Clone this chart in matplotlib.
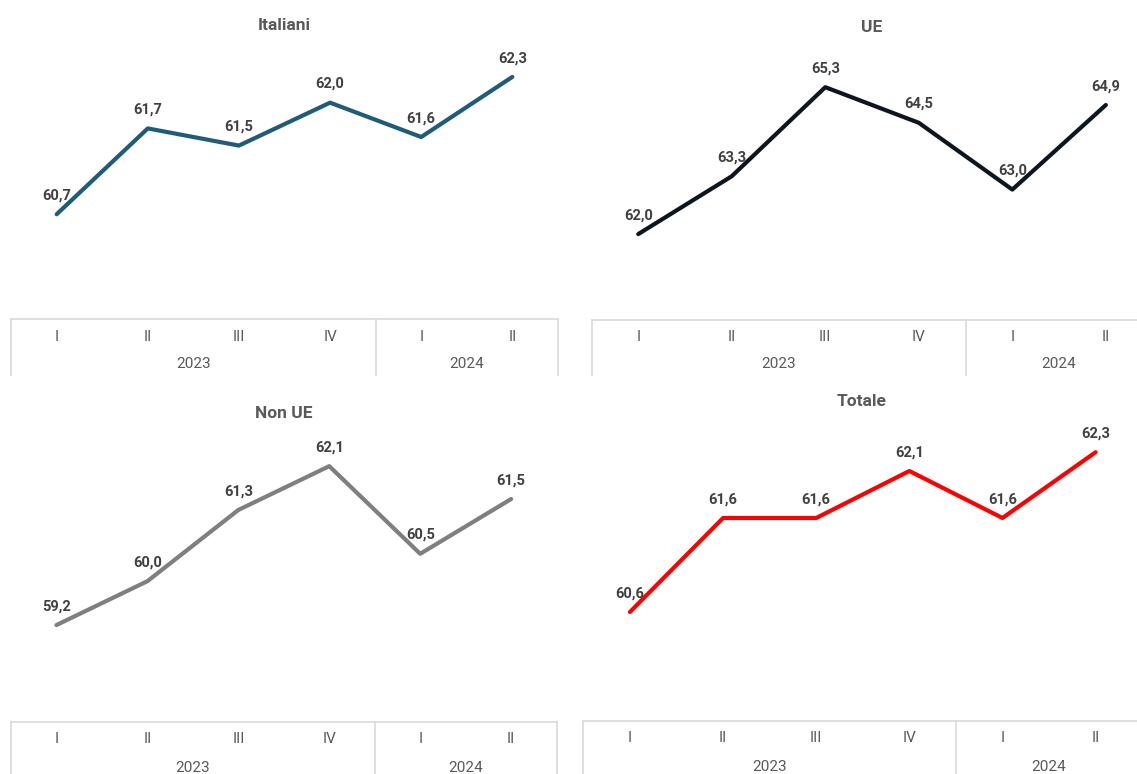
import matplotlib
matplotlib.use("Agg")
import matplotlib.pyplot as plt

# Quarterly values by citizenship group
quarters = ["I", "II", "III", "IV", "I", "II"]
years = ["2023", "2024"]
year_span = [4, 2]

italiani = [60.7, 61.7, 61.5, 62.0, 61.6, 62.3]
ue = [62.0, 63.3, 65.3, 64.5, 63.0, 64.9]
non_ue = [59.2, 60.0, 61.3, 62.1, 60.5, 61.5]
totale = [60.6, 61.6, 61.6, 62.1, 61.6, 62.3]

titles = ["Italiani", "UE", "Non UE", "Totale"]

W, H = 1137, 774
plt.rcParams["font.family"] = ["Roboto", "DejaVu Sans"]

fig = plt.figure(figsize=(W / 100, H / 100), dpi=100)
fig.patch.set_facecolor("white")

TEXT = "#404040"
AXIS_TEXT = "#595959"
GRID = "#d9d9d9"


def px_axes(x0, x1, y0, y1):
    """Axes placed by pixel box (y measured from the top)."""
    return fig.add_axes([x0 / W, 1 - y1 / H, (x1 - x0) / W, (y1 - y0) / H])


def panel(values, title, color, box, ylim, table_bottom, title_xy, row_y):
    x0, x1, y0, y1 = box
    ax = px_axes(x0, x1, y0, y1)
    xs = list(range(len(values)))
    ax.plot(xs, values, color=color, lw=3.0, solid_capstyle="round",
            solid_joinstyle="round", clip_on=False)
    for x, v in zip(xs, values):
        ax.annotate(f"{v:.1f}".replace(".", ","), (x, v), xytext=(0, 13.5),
                    textcoords="offset points", ha="center", va="center",
                    fontsize=10.5, fontweight="bold", color=TEXT,
                    annotation_clip=False)
    ax.set_xlim(-0.5, len(values) - 0.5)
    ax.set_ylim(*ylim)
    ax.axis("off")

    # Two-level category axis drawn as a table below the plot
    tb = px_axes(x0, x1, y1, table_bottom)
    tb.set_xlim(-0.5, len(values) - 0.5)
    tb.set_ylim(table_bottom - y1, 0)
    tb.axis("off")
    h = table_bottom - y1
    tb.plot([-0.5, len(values) - 0.5], [0, 0], color=GRID, lw=1.2, clip_on=False)
    edges = [-0.5]
    for span in year_span:
        edges.append(edges[-1] + span)
    for e in edges:
        tb.plot([e, e], [0, h], color=GRID, lw=1.2, clip_on=False)
    for x, q in zip(xs, quarters):
        tb.text(x, row_y[0], q, ha="center", va="center", fontsize=11,
                color=AXIS_TEXT)
    for i, yr in enumerate(years):
        tb.text((edges[i] + edges[i + 1]) / 2, row_y[1], yr, ha="center",
                va="center", fontsize=11, color=AXIS_TEXT)

    fig.text(title_xy[0] / W, 1 - title_xy[1] / H, title, ha="center",
             va="center", fontsize=12.5, fontweight="bold", color=AXIS_TEXT)


panel(italiani, titles[0], "#1f5c7a", (11.1, 557.9, 40, 319), (59.48, 62.73),
      375, (284, 25), (18, 45))
panel(ue, titles[1], "#0d1620", (591.5, 1152.6, 40, 320), (60.07, 66.36),
      375, (872, 27), (17, 44))
panel(non_ue, titles[2], "#7f7f7f", (11.0, 556.6, 430, 722), (57.43, 62.76),
      774, (284, 414), (17, 46))
panel(totale, titles[3], "#ff0000", (583.4, 1142.2, 430, 721), (59.44, 62.536),
      774, (862, 402), (17, 46))

fig.savefig("out.png", dpi=100, facecolor="white")
